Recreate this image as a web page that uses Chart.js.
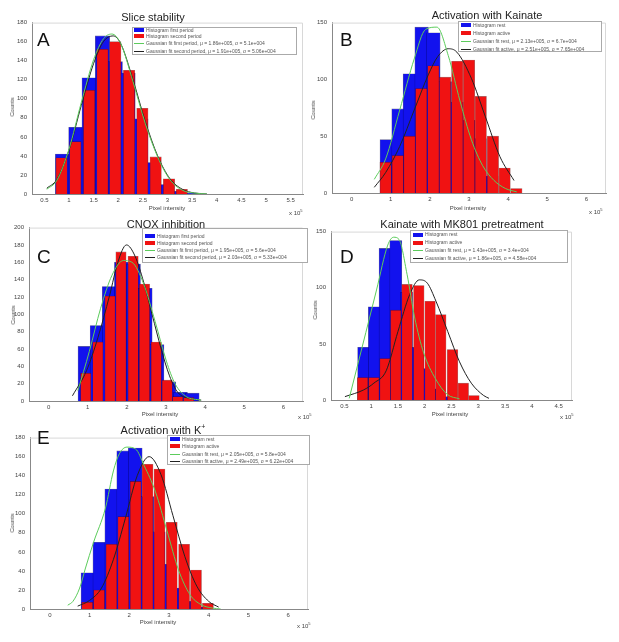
<!DOCTYPE html>
<html><head><meta charset="utf-8">
<script src="https://cdn.jsdelivr.net/npm/chart.js@4.4.0/dist/chart.umd.min.js"></script>
<style>
body{margin:0;background:#fff;width:619px;height:642px;position:relative;overflow:hidden;font-family:"Liberation Sans",Arial,sans-serif;}
.abs{position:absolute;white-space:nowrap;}
.title{font-size:11px;color:#222;transform:translateX(-50%);line-height:12px}
.letter{font-size:19px;color:#111;line-height:19px}
.axlab{font-size:6px;color:#444;line-height:6px}
.legend{position:absolute;background:#fff;border:1px solid #aaa;box-sizing:border-box}
.row{position:absolute;white-space:nowrap;height:7px;line-height:7px;font-size:5px;color:#555}
.sw{display:inline-block;width:10px;height:4px;vertical-align:middle;margin-right:2px}
.ln{display:inline-block;width:10px;height:0;border-top:1px solid;vertical-align:middle;margin-right:2px}
canvas{position:absolute}
</style></head><body>
<script>
// ---------- Panel A: Slice stability ----------
const aBlueX = [0.87, 1.14, 1.41, 1.68, 1.94, 2.20, 2.46, 2.72, 2.99, 3.25, 3.52];
const aBlueY = [42, 70, 122, 166, 139, 127, 79, 33, 10, 3, 1];
const aRedX  = [0.85, 1.13, 1.41, 1.68, 1.94, 2.22, 2.49, 2.76, 3.03, 3.29];
const aRedY  = [38, 55, 109, 152, 160, 130, 90, 39, 16, 5];
const aFit1X = [0.55, 0.75, 1.0, 1.25, 1.5, 1.7, 1.87, 2.05, 2.3, 2.55, 2.8, 3.05, 3.3, 3.55, 3.8];
const aFit1Y = [5, 14, 47, 96, 141, 163, 168, 158, 118, 74, 39, 15, 4, 1, 0];
const aFit2X = [0.55, 0.75, 1.0, 1.25, 1.5, 1.7, 1.9, 2.05, 2.3, 2.55, 2.8, 3.05, 3.3, 3.55, 3.8];
const aFit2Y = [6, 15, 46, 93, 137, 160, 166, 158, 120, 76, 40, 16, 5, 1, 0];
const aLegend = ['Histogram first period', 'Histogram second period',
  'Gaussian fit first period, \u03bc = 1.86e+005, \u03c3 = 5.1e+004',
  'Gaussian fit second period, \u03bc = 1.91e+005, \u03c3 = 5.06e+004'];

// ---------- Panel B: Activation with Kainate ----------
const bBlueX = [0.90, 1.20, 1.49, 1.79, 2.09, 2.38, 2.68, 2.98, 3.27, 3.57];
const bBlueY = [47, 74, 105, 146, 141, 98, 80, 64, 48, 15];
const bRedX  = [0.87, 1.18, 1.48, 1.78, 2.09, 2.39, 2.70, 3.00, 3.30, 3.61, 3.91, 4.21];
const bRedY  = [27, 33, 50, 92, 112, 102, 116, 117, 85, 50, 22, 4];
const bFit1X = [0.58, 0.87, 1.23, 1.6, 1.89, 2.18, 2.47, 2.77, 3.06, 3.35, 3.64, 3.93, 4.22];
const bFit1Y = [12, 30, 73, 118, 144, 146, 121, 81, 47, 24, 11, 4, 1];
const bFit2X = [0.58, 0.87, 1.23, 1.6, 1.96, 2.2, 2.47, 2.69, 3.06, 3.42, 3.79, 4.15];
const bFit2Y = [5, 18, 41, 73, 104, 120, 127, 124, 101, 67, 32, 11];
const bLegend = ['Histogram rest', 'Histogram active',
  'Gaussian fit rest, \u03bc = 2.13e+005, \u03c3 = 6.7e+004',
  'Gaussian fit active, \u03bc = 2.51e+005, \u03c3 = 7.65e+004'];

// ---------- Panel C: CNQX inhibition ----------
const cBlueX = [0.93, 1.24, 1.55, 1.86, 2.17, 2.47, 2.77, 3.07, 3.37, 3.67];
const cBlueY = [63, 87, 132, 160, 158, 130, 65, 22, 10, 9];
const cRedX  = [0.95, 1.26, 1.57, 1.85, 2.16, 2.45, 2.75, 3.03, 3.30, 3.58];
const cRedY  = [32, 68, 121, 172, 167, 135, 68, 24, 5, 4];
const cFit1X = [0.75, 1.04, 1.33, 1.62, 1.91, 2.13, 2.43, 2.72, 3.01, 3.23, 3.52, 3.89];
const cFit1Y = [12, 57, 107, 145, 162, 160, 135, 92, 46, 20, 5, 1];
const cFit2X = [0.61, 0.97, 1.26, 1.56, 1.77, 1.99, 2.21, 2.43, 2.65, 2.87, 3.09, 3.3, 3.6, 3.9];
const cFit2Y = [6, 35, 73, 122, 160, 180, 167, 137, 99, 61, 29, 10, 3, 1];
const cLegend = ['Histogram first period', 'Histogram second period',
  'Gaussian fit first period, \u03bc = 1.95e+005, \u03c3 = 5.6e+004',
  'Gaussian fit second period, \u03bc = 2.03e+005, \u03c3 = 5.33e+004'];

// ---------- Panel D: Kainate with MK801 pretreatment ----------
const dBlueX = [0.86, 1.06, 1.26, 1.46, 1.66, 1.87, 2.07, 2.27, 2.47];
const dBlueY = [47, 83, 135, 142, 96, 47, 28, 10, 3];
const dRedX  = [0.84, 1.05, 1.26, 1.46, 1.67, 1.89, 2.10, 2.30, 2.52, 2.72, 2.92];
const dRedY  = [20, 20, 37, 80, 103, 102, 88, 76, 45, 15, 4];
const dFit1X = [0.59, 0.9, 1.1, 1.31, 1.42, 1.52, 1.67, 1.81, 1.98, 2.2, 2.42, 2.65];
const dFit1Y = [1.5, 60, 98, 138, 145, 143, 112, 74, 42, 19, 5, 1];
const dFit2X = [0.51, 0.86, 1.05, 1.28, 1.5, 1.72, 1.9, 2.05, 2.21, 2.43, 2.65, 2.87, 3.1, 3.2];
const dFit2Y = [3, 9, 15, 26, 61, 94, 107, 104, 88, 61, 34, 15, 4, 1.5];
const dLegend = ['Histogram rest', 'Histogram active',
  'Gaussian fit rest, \u03bc = 1.43e+005, \u03c3 = 3.4e+004',
  'Gaussian fit active, \u03bc = 1.86e+005, \u03c3 = 4.58e+004'];

// ---------- Panel E: Activation with K+ ----------
const eBlueX = [0.96, 1.26, 1.56, 1.86, 2.15, 2.44, 2.73, 3.02, 3.30, 3.59, 3.88];
const eBlueY = [38, 70, 126, 166, 169, 118, 81, 47, 22, 8, 2];
const eRedX  = [0.94, 1.24, 1.55, 1.85, 2.16, 2.46, 2.76, 3.07, 3.38, 3.68, 3.98];
const eRedY  = [7, 20, 68, 97, 134, 152, 147, 91, 68, 41, 6];
const eFit1X = [0.45, 0.58, 0.75, 0.89, 1.1, 1.4, 1.6, 1.75, 1.94, 2.16, 2.37, 2.66, 2.95, 3.24, 3.53, 3.81, 4.1, 4.3];
const eFit1Y = [4, 8, 22, 42, 70, 106, 145, 163, 170, 168, 151, 123, 82, 41, 15, 4.5, 1, 0];
const eFit2X = [0.7, 1.0, 1.3, 1.6, 1.9, 2.2, 2.5, 2.8, 3.1, 3.4, 3.7, 4.0, 4.25];
const eFit2Y = [3, 9, 22, 52, 95, 140, 160, 141, 98, 55, 24, 8, 2];
const eLegend = ['Histogram rest', 'Histogram active',
  'Gaussian fit rest, \u03bc = 2.05e+005, \u03c3 = 5.8e+004',
  'Gaussian fit active, \u03bc = 2.49e+005, \u03c3 = 6.22e+004'];

const BLUE = '#1212ee', RED = '#f01212', GREEN = '#5ccc5c', BLACK = '#222222';

// layout / style per panel (bar widths given in data units of the x axis)
const panels = [
  {L:32,T:20,R:303,B:194, xMin:0.5,xMax:5.5,xStep:0.5, yMax:180,yStep:20,
   blue:[aBlueX,aBlueY], red:[aRedX,aRedY], blueW:0.265, redW:0.21, g:[aFit1X,aFit1Y], k:[aFit2X,aFit2Y],
   title:'Slice stability', tx:153, ty:11, letter:'A', lx:37, ly:30,
   lg:{x:132,y:27,w:165,h:28,rows:[30,36,43.3,51.7],sx:1}, legend:aLegend,
   xl:[167,205], yl:[12,107], ex:[289,208]},
  {L:332,T:20,R:606,B:193, xMin:0,xMax:6,xStep:1, yMax:150,yStep:50,
   blue:[bBlueX,bBlueY], red:[bRedX,bRedY], blueW:0.297, redW:0.25, g:[bFit1X,bFit1Y], k:[bFit2X,bFit2Y],
   title:'Activation with Kainate', tx:487, ty:9, letter:'B', lx:340, ly:30,
   lg:{x:458,y:21,w:144,h:31,rows:[25,33.3,41.7,49],sx:2}, legend:bLegend,
   xl:[468,205], yl:[313,110], ex:[589,207]},
  {L:29,T:225,R:303,B:401, xMin:0,xMax:6,xStep:1, yMax:200,yStep:20,
   blue:[cBlueX,cBlueY], red:[cRedX,cRedY], blueW:0.304, redW:0.226, g:[cFit1X,cFit1Y], k:[cFit2X,cFit2Y],
   title:'CNQX inhibition', tx:166, ty:218, letter:'C', lx:37, ly:247,
   lg:{x:142,y:228,w:166,h:35,rows:[236,243.3,250.7,257.3],sx:2}, legend:cLegend,
   xl:[160,411], yl:[13,315], ex:[298,412]},
  {L:331,T:229,R:572,B:400, xMin:0.5,xMax:4.5,xStep:0.5, yMax:150,yStep:50,
   blue:[dBlueX,dBlueY], red:[dRedX,dRedY], blueW:0.2, redW:0.175, g:[dFit1X,dFit1Y], k:[dFit2X,dFit2Y],
   title:'Kainate with MK801 pretreatment', tx:462, ty:218, letter:'D', lx:340, ly:247,
   lg:{x:410,y:230,w:158,h:33,rows:[234.5,242.7,250.7,258.3],sx:2}, legend:dLegend,
   xl:[450,411], yl:[315,310], ex:[560,412]},
  {L:30,T:435,R:308,B:609, xMin:0,xMax:6,xStep:1, yMax:180,yStep:20,
   blue:[eBlueX,eBlueY], red:[eRedX,eRedY], blueW:0.30, redW:0.237, g:[eFit1X,eFit1Y], k:[eFit2X,eFit2Y],
   title:'Activation with K<sup style="font-size:7px">+</sup>', tx:163, ty:421, letter:'E', lx:37, ly:428,
   lg:{x:167,y:435,w:143,h:30,rows:[439.3,446,454,461.7],sx:2}, legend:eLegend,
   xl:[158,619], yl:[12,523], ex:[297,621]}
];

const YW = 26, PT = 6, PR = 8, XH = 12;
const FONT = "'Liberation Sans', Arial, sans-serif";
const zip = (xs, ys) => xs.map((x, i) => ({x: x, y: ys[i]}));
const boxPlugin = {id:'box', afterDraw(chart){
  const c = chart.ctx, a = chart.chartArea;
  c.save(); c.strokeStyle = '#d8d8d8'; c.lineWidth = 1;
  c.beginPath(); c.moveTo(a.left, a.top + 0.5); c.lineTo(a.right - 0.5, a.top + 0.5); c.lineTo(a.right - 0.5, a.bottom); c.stroke();
  c.restore();
}};

function addDiv(cls, html, x, y, extra) {
  const d = document.createElement('div');
  d.className = 'abs ' + cls; d.innerHTML = html;
  d.style.left = x + 'px'; d.style.top = y + 'px';
  if (extra) Object.assign(d.style, extra);
  document.body.appendChild(d); return d;
}

panels.forEach(p => {
  const cv = document.createElement('canvas');
  const w = (p.R - p.L) + YW + PR, h = (p.B - p.T) + PT + XH;
  cv.width = w; cv.height = h;
  cv.style.left = (p.L - YW) + 'px'; cv.style.top = (p.T - PT) + 'px';
  cv.style.width = w + 'px'; cv.style.height = h + 'px';
  document.body.appendChild(cv);
  const pxPerUnit = (p.R - p.L) / (p.xMax - p.xMin);
  const tickFmt = v => String(+v.toFixed(2));
  new Chart(cv, {
    type: 'bar',
    data: {datasets: [
      {type:'line', data: zip(p.g[0], p.g[1]), borderColor: GREEN, borderWidth: 1, pointRadius: 0, cubicInterpolationMode:'monotone', order: 0},
      {type:'line', data: zip(p.k[0], p.k[1]), borderColor: BLACK, borderWidth: 1, pointRadius: 0, cubicInterpolationMode:'monotone', order: 0},
      {data: zip(p.red[0], p.red[1]), backgroundColor: RED, borderColor:'rgba(90,0,0,0.55)', borderWidth:0.6, grouped:false, barThickness: p.redW * pxPerUnit, order: 1},
      {data: zip(p.blue[0], p.blue[1]), backgroundColor: BLUE, borderColor:'rgba(0,0,80,0.6)', borderWidth:0.6, grouped:false, barThickness: p.blueW * pxPerUnit, order: 2}
    ]},
    options: {
      responsive: false, animation: false, devicePixelRatio: 1,
      layout: {padding: {top: PT, right: PR, left: 0, bottom: 0}},
      plugins: {legend: {display: false}, tooltip: {enabled: false}},
      scales: {
        x: {type:'linear', min: p.xMin, max: p.xMax,
            ticks: {stepSize: p.xStep, autoSkip: false, maxRotation: 0, font: {size: 6, family: FONT}, color: '#444', padding: 3, callback: tickFmt},
            grid: {display: false, drawTicks: false, tickLength: 0}, border: {color: '#888'},
            afterFit: s => { s.height = XH; }},
        y: {min: 0, max: p.yMax,
            ticks: {stepSize: p.yStep, font: {size: 6, family: FONT}, color: '#444', padding: 5},
            grid: {display: false, drawTicks: false, tickLength: 0}, border: {color: '#888'},
            afterFit: s => { s.width = YW; }}
      }
    },
    plugins: [boxPlugin]
  });

  addDiv('title', p.title, p.tx, p.ty);
  addDiv('letter', p.letter, p.lx, p.ly);
  addDiv('axlab', 'Pixel intensity', p.xl[0], p.xl[1], {transform:'translateX(-50%)'});
  addDiv('axlab', 'Counts', p.yl[0], p.yl[1], {transform:'translate(-50%,-50%) rotate(-90deg)'});
  addDiv('axlab', 'x 10<sup style="font-size:4px">5</sup>', p.ex[0], p.ex[1]);

  const lg = document.createElement('div');
  lg.className = 'legend';
  Object.assign(lg.style, {left: p.lg.x + 'px', top: p.lg.y + 'px', width: p.lg.w + 'px', height: p.lg.h + 'px'});
  document.body.appendChild(lg);
  const sw = [
    `<span class="sw" style="background:${BLUE}"></span>`,
    `<span class="sw" style="background:${RED}"></span>`,
    `<span class="ln" style="border-color:${GREEN}"></span>`,
    `<span class="ln" style="border-color:${BLACK}"></span>`];
  p.legend.forEach((t, i) => {
    const r = document.createElement('div');
    r.className = 'row';
    r.style.left = p.lg.sx + 'px';
    r.style.top = (p.lg.rows[i] - p.lg.y - 4.5) + 'px';
    r.innerHTML = sw[i] + t;
    lg.appendChild(r);
  });
});
</script>
</body></html>
